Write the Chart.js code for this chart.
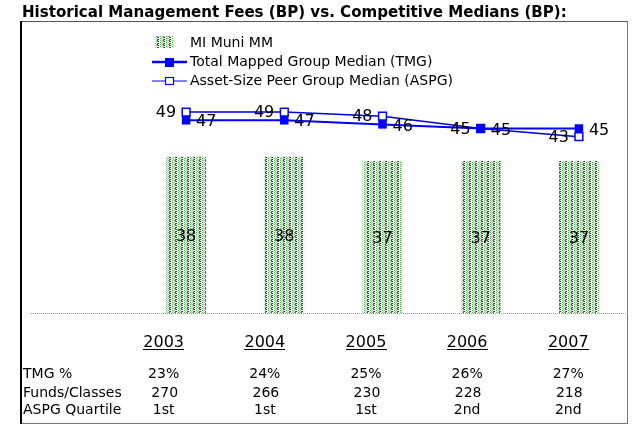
<!DOCTYPE html>
<html>
<head>
<meta charset="utf-8">
<script src="https://cdn.jsdelivr.net/npm/chart.js@4/dist/chart.umd.min.js"></script>
<style>
  html, body { margin: 0; padding: 0; background: #fff; }
  #wrap { width: 637px; height: 431px; position: relative; }
</style>
</head>
<body>
<div id="wrap"><canvas id="myChart" width="637" height="431"></canvas></div>
<script>
var years = ["2003", "2004", "2005", "2006", "2007"];
var muniValues = [38, 38, 37, 37, 37];
var tmgValues = [47, 47, 46, 45, 45];
var aspgValues = [49, 49, 48, 45, 43];
var tmgPct = ["23%", "24%", "25%", "26%", "27%"];
var fundsClasses = ["270", "266", "230", "228", "218"];
var aspgQuartile = ["1st", "1st", "1st", "2nd", "2nd"];

var FONT = "'DejaVu Sans', Verdana, sans-serif";

// dotted green stripes like the original bar fill
function makePattern(){
    var p = document.createElement("canvas");
    p.width = 6; p.height = 4;
    var c = p.getContext("2d");
    c.fillStyle = "#fff";
    c.fillRect(0, 0, 6, 4);
    var dots = [
        [0, 0, "#b0b0b0"], [0, 2, "#b0b0b0"],
        [1, 0, "#009900"], [1, 1, "#00aa00"], [1, 3, "#009900"],
        [2, 1, "#005500"], [2, 3, "#006600"],
        [4, 0, "#33cc33"], [4, 2, "#22bb22"],
        [5, 1, "#c8c8c8"], [5, 3, "#c8c8c8"]
    ];
    dots.forEach(function(d){
        c.fillStyle = d[2];
        c.fillRect(d[0], d[1], 1, 1);
    });
    return c.createPattern(p, "repeat");
}
var barFill = makePattern();

var framePlugin = {
    id: "frame",
    beforeDraw: function(chart){
        var ctx = chart.ctx;
        ctx.save();
        // title
        ctx.fillStyle = "#000";
        var size = 14;
        var title = "Historical Management Fees (BP) vs. Competitive Medians (BP):";
        ctx.font = "bold " + size + "px " + FONT;
        var w = ctx.measureText(title).width;
        size = size * 545 / w;
        ctx.font = "bold " + size.toFixed(2) + "px " + FONT;
        ctx.textBaseline = "alphabetic";
        ctx.textAlign = "left";
        ctx.fillText(title, 22, 17);
        // box
        ctx.fillStyle = "#555";
        ctx.fillRect(20, 21, 608, 1);
        ctx.fillStyle = "#777";
        ctx.fillRect(627, 21, 1, 403);
        ctx.fillRect(20, 423, 608, 1);
        ctx.fillStyle = "#000";
        ctx.fillRect(20, 21, 2, 403);
        // baseline
        var y0 = chart.scales.y.getPixelForValue(0);
        ctx.fillStyle = "#999";
        for (var x = 31; x < chart.chartArea.right; x += 2) {
            ctx.fillRect(x, Math.round(y0), 1, 1);
        }
        ctx.restore();
    },
    afterDatasetsDraw: function(chart){
        var ctx = chart.ctx;
        var xs = chart.scales.x;
        ctx.save();
        ctx.fillStyle = "#000";
        ctx.font = "16px " + FONT;
        ctx.textBaseline = "middle";
        // bar labels
        ctx.textAlign = "center";
        chart.getDatasetMeta(0).data.forEach(function(bar, i){
            ctx.fillText(muniValues[i], bar.x, (bar.y + bar.base) / 2 + 2);
        });
        // TMG labels to the right, ASPG to the left
        ctx.textAlign = "left";
        chart.getDatasetMeta(1).data.forEach(function(pt, i){
            ctx.fillText(tmgValues[i], pt.x + 10, pt.y + 2);
        });
        ctx.textAlign = "right";
        chart.getDatasetMeta(2).data.forEach(function(pt, i){
            ctx.fillText(aspgValues[i], pt.x - 10, pt.y + 1);
        });

        // legend
        ctx.textAlign = "left";
        ctx.font = "14px " + FONT;
        ctx.fillStyle = barFill;
        ctx.fillRect(155, 36, 18, 12);
        ctx.fillStyle = "#000";
        ctx.fillText("MI Muni MM", 190, 43);
        ctx.strokeStyle = "#0000ff";
        ctx.lineWidth = 2.5;
        ctx.beginPath(); ctx.moveTo(152, 62); ctx.lineTo(187, 62); ctx.stroke();
        ctx.fillStyle = "#0000ff";
        ctx.fillRect(165, 58, 9, 9);
        ctx.fillStyle = "#000";
        ctx.fillText("Total Mapped Group Median (TMG)", 190, 62);
        ctx.lineWidth = 1.2;
        ctx.beginPath(); ctx.moveTo(152, 81); ctx.lineTo(187, 81); ctx.stroke();
        ctx.fillStyle = "#fff";
        ctx.fillRect(165.5, 77.5, 8, 7);
        ctx.strokeRect(165.5, 77.5, 8, 7);
        ctx.fillStyle = "#000";
        ctx.fillText("Asset-Size Peer Group Median (ASPG)", 190, 81);

        // table under the chart
        ctx.textBaseline = "alphabetic";
        years.forEach(function(yr, i){
            var cx = xs.getPixelForValue(i) * 1.03 - 28;
            ctx.textAlign = "center";
            ctx.font = "16px " + FONT;
            ctx.fillText(yr, cx, 347);
            var tw = ctx.measureText(yr).width;
            ctx.fillRect(Math.round(cx - tw / 2), 349, Math.round(tw), 1);
            ctx.font = "14px " + FONT;
            ctx.fillText(tmgPct[i], cx, 378);
            ctx.fillText(fundsClasses[i], cx + 1, 397);
            ctx.fillText(aspgQuartile[i], cx, 414);
        });
        ctx.textAlign = "left";
        ctx.font = "14px " + FONT;
        ctx.fillText("TMG %", 23, 378);
        ctx.fillText("Funds/Classes", 23, 397);
        ctx.fillText("ASPG Quartile", 23, 414);
        ctx.restore();
    }
};

new Chart("myChart", {
    type: "bar",
    data: {
        labels: years,
        datasets: [{
            type: "bar",
            label: "MI Muni MM",
            data: muniValues,
            backgroundColor: barFill,
            borderWidth: 0,
            barThickness: 39,
            order: 3
        }, {
            type: "line",
            label: "Total Mapped Group Median (TMG)",
            data: tmgValues,
            borderColor: "#0000ff",
            borderWidth: 2,
            pointStyle: "rect",
            pointRadius: 6,
            pointBackgroundColor: "#0000ff",
            pointBorderColor: "#0000ff",
            pointBorderWidth: 0,
            tension: 0,
            order: 1
        }, {
            type: "line",
            label: "Asset-Size Peer Group Median (ASPG)",
            data: aspgValues,
            borderColor: "#0000cc",
            borderWidth: 1.5,
            pointStyle: "rect",
            pointRadius: 5.5,
            pointBackgroundColor: "#fff",
            pointBorderColor: "#0000ff",
            pointBorderWidth: 1.5,
            tension: 0,
            order: 2
        }]
    },
    options: {
        responsive: false,
        animation: false,
        layout: { padding: { left: 137, right: 9, top: 67, bottom: 118 } },
        plugins: {
            legend: { display: false },
            title: { display: false },
            tooltip: { enabled: false }
        },
        scales: {
            x: { display: false },
            y: { display: false, min: 0, max: 60 }
        }
    },
    plugins: [framePlugin]
});
</script>
</body>
</html>
